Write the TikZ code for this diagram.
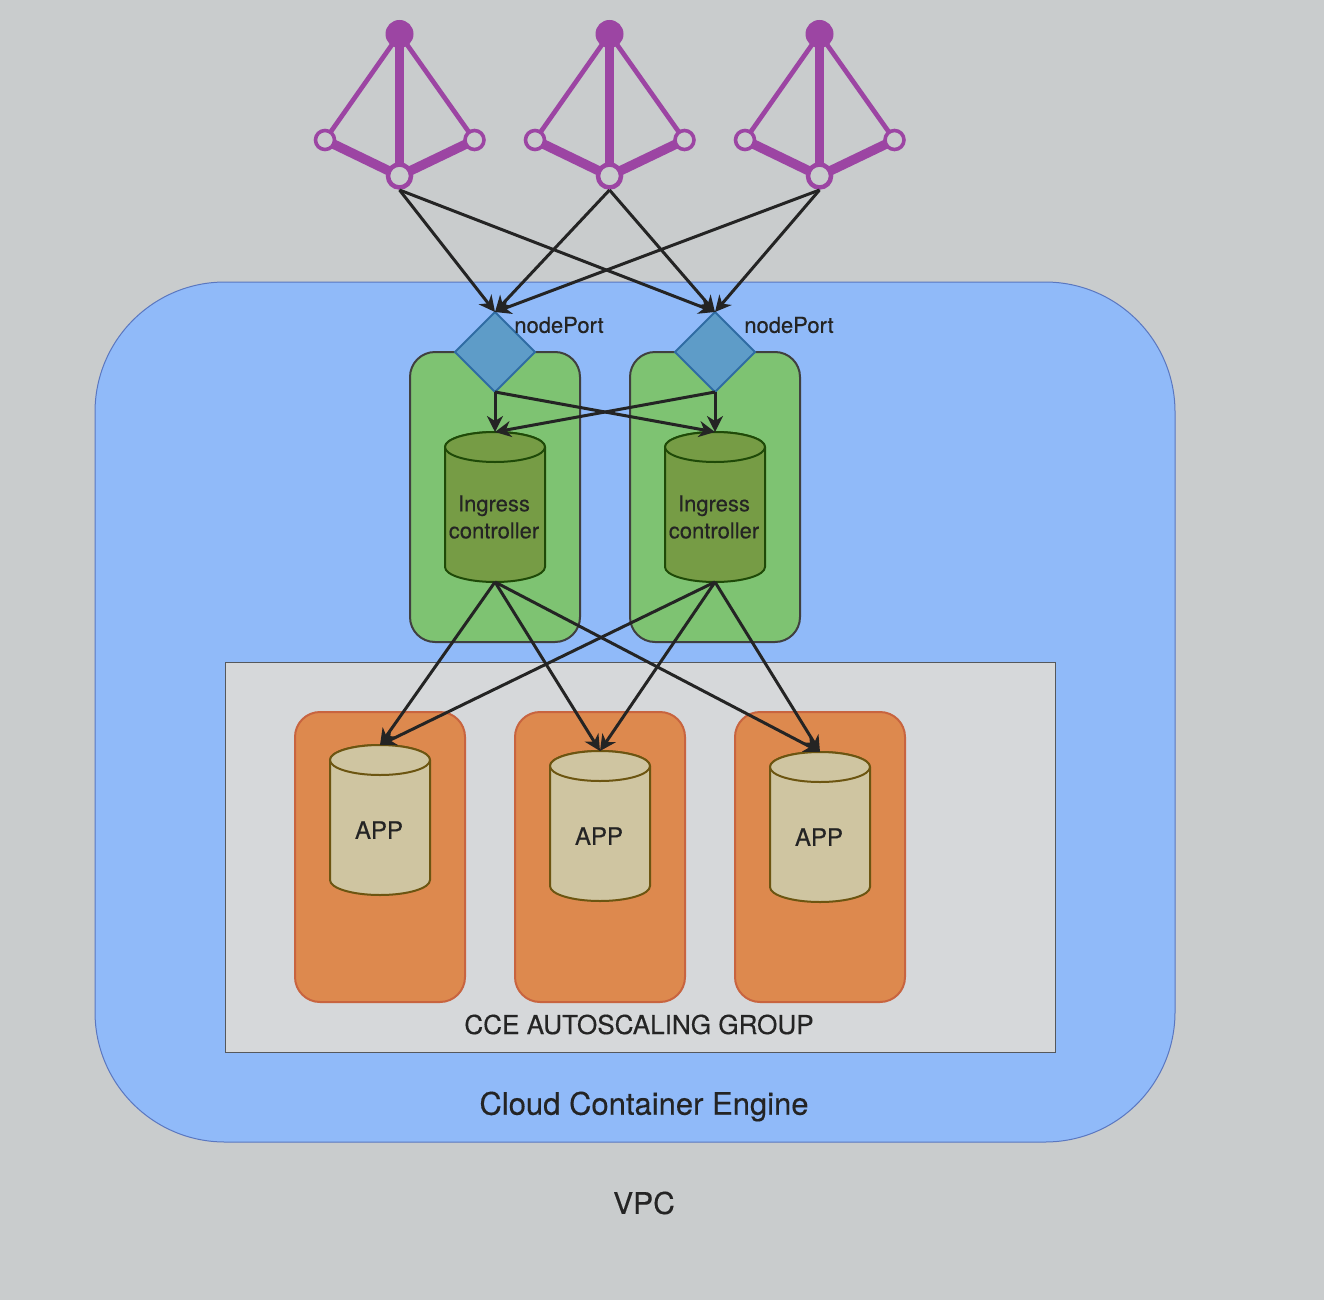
\documentclass[tikz,border=0pt]{standalone}
\usepackage{fontspec}
\setmainfont{TeX Gyre Heros}[FakeBold=0.3]
\usetikzlibrary{arrows.meta,shapes.geometric}
\definecolor{bgc}{HTML}{C9CCCD}
\definecolor{cloudf}{HTML}{90BAF9}
\definecolor{cloudd}{HTML}{5A77C0}
\definecolor{groupf}{HTML}{D6D8DA}
\definecolor{groupd}{HTML}{55585C}
\definecolor{greenf}{HTML}{7EC372}
\definecolor{greend}{HTML}{404040}
\definecolor{orangef}{HTML}{DD894E}
\definecolor{oranged}{HTML}{C8643F}
\definecolor{diaf}{HTML}{5E9CC8}
\definecolor{diad}{HTML}{2F6CA3}
\definecolor{ingf}{HTML}{769C45}
\definecolor{ingd}{HTML}{1F4A08}
\definecolor{appf}{HTML}{CFC5A1}
\definecolor{appd}{HTML}{6C5511}
\definecolor{purp}{HTML}{9C45A3}
\definecolor{ink}{HTML}{242424}
\tikzset{
  x=1pt,y=-1pt,
  box/.style={rectangle,inner sep=0pt,outer sep=0pt},
  greenbox/.style={box,draw=greend,fill=greenf,line width=2pt,rounded corners=25pt,minimum width=170pt,minimum height=290pt},
  orangebox/.style={box,draw=oranged,fill=orangef,line width=2pt,rounded corners=25pt,minimum width=170pt,minimum height=290pt},
  portd/.style={diamond,aspect=1,inner sep=0pt,outer sep=0pt,draw=diad,fill=diaf,line width=2pt,minimum size=80pt},
  lab/.style={text=ink,inner sep=0pt,align=center},
  conn/.style={draw=ink,line width=3pt,-{Stealth[length=16pt,width=16pt,inset=5pt]}},
  ingcyl/.style={draw=ingd,fill=ingf,line width=2pt},
  appcyl/.style={draw=appd,fill=appf,line width=2pt},
  hub/.style={circle,inner sep=0pt,outer sep=0pt,draw=purp,fill=purp,line width=1pt,minimum size=27pt},
  ringm/.style={circle,inner sep=0pt,outer sep=0pt,draw=purp,fill=bgc,line width=4.5pt,minimum size=23pt},
  rings/.style={circle,inner sep=0pt,outer sep=0pt,draw=purp,fill=bgc,line width=3.6pt,minimum size=19pt},
  thinl/.style={draw=purp,line width=4.7pt},
  thickl/.style={draw=purp,line width=9.5pt},
}
% name, centre x, top y, style, text
\newcommand{\drumshape}[5]{%
  \begin{scope}[shift={(#2,#3)}]
    \path[#4] (-50,15) -- (-50,135) .. controls (-50,143.3) and (-27.6,150) .. (0,150)
      .. controls (27.6,150) and (50,143.3) .. (50,135) -- (50,15)
      .. controls (50,6.7) and (27.6,0) .. (0,0) .. controls (-27.6,0) and (-50,6.7) .. (-50,15) -- cycle;
    \path[#4] (-50,15) .. controls (-50,6.7) and (-27.6,0) .. (0,0) .. controls (27.6,0) and (50,6.7) .. (50,15)
      .. controls (50,23.3) and (27.6,30) .. (0,30) .. controls (-27.6,30) and (-50,23.3) .. (-50,15) -- cycle;
    \coordinate (#1top) at (0,0);
    \coordinate (#1bot) at (0,150);
    \node[lab,font=\fontsize{22}{27}\selectfont] (#1text) at (-1,85) {#5};
  \end{scope}}
% name, centre x
\newcommand{\meshicon}[2]{%
  \begin{scope}[shift={(#2,0)}]
    \draw[thickl] (0,34) -- (0,176);
    \draw[thickl] (0,176) -- (-74.5,140);
    \draw[thickl] (0,176) -- (75,140);
    \draw[thinl] (0,34) -- (-74.5,140);
    \draw[thinl] (0,34) -- (75,140);
    \node[hub] (#1a) at (0,34) {};
    \node[ringm] (#1b) at (0,176) {};
    \node[rings] (#1l) at (-74.5,140) {};
    \node[rings] (#1r) at (75,140) {};
    \coordinate (#1out) at (0,190);
  \end{scope}}
\begin{document}
\begin{tikzpicture}
  \fill[bgc] (0,0) rectangle (1324,1300);
  \useasboundingbox (0,0) rectangle (1324,1300);
  \node[box,draw=cloudd,fill=cloudf,line width=1pt,rounded corners=130pt,minimum width=1080pt,minimum height=860pt] (cloud) at (635,712) {};
  \node[box,draw=groupd,fill=groupf,line width=1pt,minimum width=830pt,minimum height=390pt] (group) at (640,857) {};

  \node[greenbox] (g1) at (495,497) {};
  \node[greenbox] (g2) at (715,497) {};
  \node[orangebox] (o1) at (380,857) {};
  \node[orangebox] (o2) at (600,857) {};
  \node[orangebox] (o3) at (820,857) {};

  \node[portd] (p1) at (495,352) {};
  \node[portd] (p2) at (715,352) {};
  \node[lab,font=\fontsize{22}{26}\selectfont] (p1lab) at (559,325) {nodePort};
  \node[lab,font=\fontsize{22}{26}\selectfont] (p2lab) at (789,325) {nodePort};

  \drumshape{i1}{495}{432}{ingcyl}{Ingress\\controller}
  \drumshape{i2}{715}{432}{ingcyl}{Ingress\\controller}
  \drumshape{a1}{380}{745}{appcyl}{\fontsize{24}{29}\selectfont APP}
  \drumshape{a2}{600}{751}{appcyl}{\fontsize{24}{29}\selectfont APP}
  \drumshape{a3}{820}{752}{appcyl}{\fontsize{24}{29}\selectfont APP}

  \node[lab,font=\fontsize{26.1}{31}\selectfont] (groupl) at (639,1024.5) {CCE AUTOSCALING GROUP};
  \node[lab,font=\fontsize{31}{37}\selectfont] (cloudl) at (644,1106.5) {Cloud Container Engine};
  \node[lab,font=\fontsize{30}{36}\selectfont] (vpcl) at (644,1203) {VPC};

  \meshicon{m1}{399.5}
  \meshicon{m2}{609.5}
  \meshicon{m3}{819.5}

  \foreach \m in {m1,m2,m3}{
    \draw[conn] (\m out) -- (p1.north);
    \draw[conn] (\m out) -- (p2.north);
  }
  \draw[conn] (p1.south) -- (i1top);
  \draw[conn] (p1.south) -- (i2top);
  \draw[conn] (p2.south) -- (i1top);
  \draw[conn] (p2.south) -- (i2top);
  \foreach \i in {i1,i2}{
    \draw[conn] (\i bot) -- (a1top);
    \draw[conn] (\i bot) -- (a2top);
    \draw[conn] (\i bot) -- (a3top);
  }
\end{tikzpicture}
\end{document}
